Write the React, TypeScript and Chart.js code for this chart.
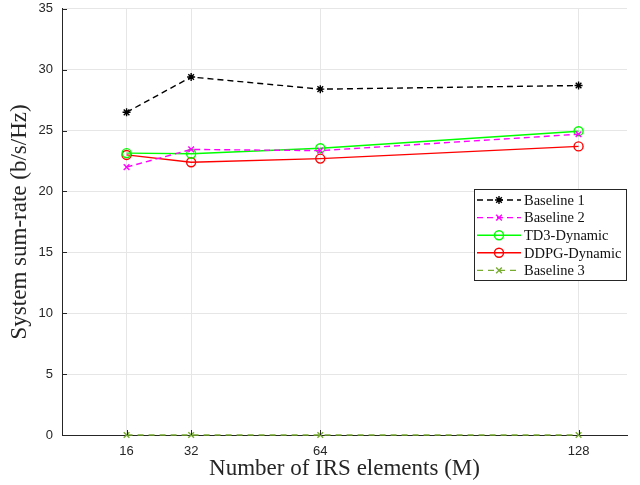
import React, { useEffect, useRef } from "react";
import { Chart, registerables } from "chart.js";
import { drawPoint } from "chart.js/helpers";

Chart.register(...registerables);

const xValues = [16, 32, 64, 128];
const xTicks = [16, 32, 64, 128];
const yTicks = [0, 5, 10, 15, 20, 25, 30, 35];
const seriesNames = ["Baseline 1", "Baseline 2", "TD3-Dynamic", "DDPG-Dynamic", "Baseline 3"];
const baseline1 = [26.5, 29.4, 28.4, 28.7];
const baseline2 = [22.0, 23.45, 23.35, 24.7];
const td3Dynamic = [23.15, 23.1, 23.55, 24.95];
const ddpgDynamic = [23.0, 22.4, 22.7, 23.7];
const baseline3 = [0, 0, 0, 0];
const xTitle = "Number of IRS elements (M)";
const yTitle = "System sum-rate (b/s/Hz)";

const SHIFT = 8;

const toPoints = (ys: number[]) => ys.map((y, i) => ({ x: xValues[i], y }));

const tickMarksPlugin = {
  id: "innerTicks",
  afterDatasetsDraw(chart: any) {
    const ctx = chart.ctx;
    const a = chart.chartArea;
    const xs = chart.scales.x;
    const ys = chart.scales.y;
    ctx.save();
    ctx.strokeStyle = "#262626";
    ctx.lineWidth = 1;
    ctx.setLineDash([]);
    ctx.beginPath();
    xTicks.forEach((v) => {
      const px = Math.round(xs.getPixelForValue(v)) + 0.5;
      ctx.moveTo(px, a.bottom);
      ctx.lineTo(px, a.bottom - 5);
    });
    yTicks.forEach((v) => {
      const py = Math.round(ys.getPixelForValue(v)) + 0.5;
      ctx.moveTo(a.left, py);
      ctx.lineTo(a.left + 5, py);
    });
    ctx.stroke();
    ctx.restore();
  },
};

const legendPlugin = {
  id: "boxLegend",
  afterDraw(chart: any) {
    const ctx = chart.ctx;
    const left = 474, top = 189 + SHIFT, right = 627, bottom = 281 + SHIFT;
    ctx.save();
    ctx.fillStyle = "#ffffff";
    ctx.fillRect(left, top, right - left, bottom - top);
    ctx.strokeStyle = "#262626";
    ctx.lineWidth = 1;
    ctx.setLineDash([]);
    ctx.strokeRect(left + 0.5, top + 0.5, right - left - 1, bottom - top - 1);
    const ds = chart.data.datasets;
    const rowH = 17.6;
    ds.forEach((d: any, i: number) => {
      const y = top + 11 + i * rowH;
      ctx.save();
      ctx.strokeStyle = d.borderColor;
      ctx.lineWidth = d.borderWidth;
      ctx.setLineDash(d.borderDash || []);
      ctx.beginPath();
      ctx.moveTo(477, y);
      ctx.lineTo(521, y);
      ctx.stroke();
      ctx.setLineDash([]);
      ctx.strokeStyle = d.pointBorderColor;
      ctx.fillStyle = d.pointBackgroundColor;
      ctx.lineWidth = d.pointBorderWidth;
      drawPoint(ctx, { pointStyle: d.pointStyle, radius: d.pointRadius, rotation: 0, borderWidth: d.pointBorderWidth }, 499, y);
      ctx.restore();
      ctx.fillStyle = "#111111";
      ctx.font = "14.5px 'Liberation Serif', serif";
      ctx.textBaseline = "middle";
      ctx.textAlign = "left";
      ctx.fillText(seriesNames[i], 524, y + 1);
    });
    ctx.restore();
  },
};

export default function App() {
  const canvasRef = useRef<HTMLCanvasElement | null>(null);
  useEffect(() => {
    const canvas = canvasRef.current;
    if (!canvas) return;
    const mk = (label: string, data: number[], color: string, style: string, dash: number[], radius: number) => ({
      label,
      data: toPoints(data),
      borderColor: color,
      backgroundColor: color,
      borderWidth: 1.4,
      borderDash: dash,
      pointStyle: style,
      pointRadius: radius,
      pointBorderColor: color,
      pointBackgroundColor: "rgba(0,0,0,0)",
      pointBorderWidth: 1.4,
      fill: false,
      tension: 0,
      clip: false,
    });
    const chart = new Chart(canvas, {
      type: "line",
      data: {
        datasets: [
          mk(seriesNames[0], baseline1, "#000000", "star", [6, 4], 4),
          mk(seriesNames[1], baseline2, "#ff00ff", "crossRot", [6, 4], 4),
          mk(seriesNames[2], td3Dynamic, "#00ff00", "circle", [], 4.5),
          mk(seriesNames[3], ddpgDynamic, "#ff0000", "circle", [], 4.5),
          mk(seriesNames[4], baseline3, "#77ac30", "crossRot", [6, 5], 4),
        ],
      },
      options: {
        animation: false,
        responsive: false,
        maintainAspectRatio: false,
        layout: { padding: { top: 0, right: 13, left: 0, bottom: 0 } },
        plugins: { legend: { display: false }, tooltip: { enabled: false } },
        scales: {
          x: {
            type: "linear",
            min: 0,
            max: 140,
            afterBuildTicks: (scale: any) => {
              scale.ticks = xTicks.map((v) => ({ value: v }));
            },
            afterFit: (scale: any) => {
              scale.height = 50;
            },
            grid: { color: "#e6e6e6", lineWidth: 1, drawTicks: false },
            border: { display: true, color: "#262626", width: 1 },
            ticks: {
              color: "#262626",
              font: { family: "'Liberation Sans', Arial, sans-serif", size: 13 },
              padding: 9,
              maxRotation: 0,
              autoSkip: false,
            },
            title: {
              display: true,
              text: xTitle,
              color: "#262626",
              font: { family: "'Liberation Serif', serif", size: 23 },
              padding: { top: 0, bottom: 2 },
            },
          },
          y: {
            type: "linear",
            min: 0,
            max: 35,
            afterBuildTicks: (scale: any) => {
              scale.ticks = yTicks.map((v) => ({ value: v }));
            },
            afterFit: (scale: any) => {
              scale.width = 62;
            },
            grid: { color: "#e6e6e6", lineWidth: 1, drawTicks: false },
            border: { display: true, color: "#262626", width: 1 },
            ticks: {
              color: "#262626",
              font: { family: "'Liberation Sans', Arial, sans-serif", size: 13 },
              padding: 9,
            },
            title: {
              display: true,
              text: yTitle,
              color: "#262626",
              font: { family: "'Liberation Serif', serif", size: 23 },
              padding: { top: 6, bottom: 0 },
            },
          },
        },
      },
      plugins: [tickMarksPlugin, legendPlugin],
    } as any);
    return () => chart.destroy();
  }, []);
  return (
    <div style={{ position: "fixed", left: 0, top: 0, width: 640, height: 485, background: "#fff", overflow: "hidden" }}>
      <canvas
        ref={canvasRef}
        width={640}
        height={485 + SHIFT}
        style={{ position: "absolute", left: 0, top: -SHIFT, width: 640, height: 485 + SHIFT }}
      />
    </div>
  );
}
